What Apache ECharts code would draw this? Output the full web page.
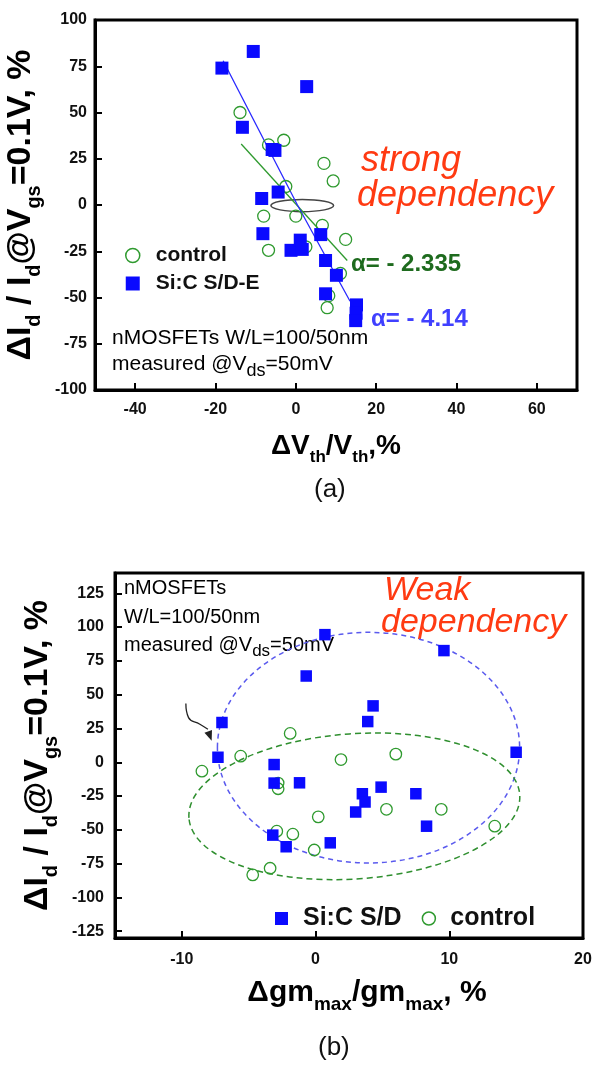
<!DOCTYPE html>
<html>
<head>
<meta charset="utf-8">
<script src="https://cdn.jsdelivr.net/npm/echarts@6/dist/echarts.min.js"></script>
<style>
  html, body { margin: 0; padding: 0; background: #fff; }
  #chart { width: 598px; height: 1077px; }
</style>
</head>
<body>
<div id="chart"></div>
<script>
// ---- panel (a): dId/Id vs dVth/Vth ----
const ctrlA = [
  [-13.9, 50], [-6.8, 32.5], [-3.0, 35], [-2.5, 10], [7.0, 22.5], [9.3, 13],
  [-8.0, -6], [0.0, -6], [-6.8, -24.5], [6.6, -11], [12.4, -18.6], [2.5, -22.6],
  [11.1, -37], [8.2, -49], [7.8, -55.5]
];
const sicA = [
  [-18.4, 74], [-10.6, 83], [2.7, 64], [-13.3, 42], [-5.9, 30], [-5.2, 29.5],
  [-4.4, 7], [-8.5, 3.5], [-8.2, -15.5], [-1.2, -24.5], [1.1, -19], [1.6, -24],
  [6.2, -16], [7.4, -30], [10.1, -38], [7.4, -48], [15.1, -54], [15.0, -58.5], [14.9, -62.5]
];
const fitSicA = [[-18.1, 78], [0.4, 0], [13.5, -52]];
const fitCtrlA = [[-13.6, 33], [12.8, -30]];
const ringA = [[1.6, -0.3, 7.8, 3.3, 0]];          // cx, cy, rx, ry, tilt(deg)
const xTicksA = [-40, -20, 0, 20, 40, 60];

// ---- panel (b): dId/Id vs dgm/gm ----
const sicB = [
  [-7.0, 29.4], [-7.3, 3.7], [-0.7, 63.8], [-3.1, -1.7], [-3.1, -15.4], [-1.2, -15.2],
  [-3.2, -53.9], [-2.2, -62.5], [0.7, 94.4], [9.6, 82.6], [4.3, 41.7], [3.9, 30.1],
  [15.0, 7.4], [3.5, -23.3], [3.7, -29.4], [4.9, -18.4], [3.0, -36.8], [7.5, -23.3],
  [8.3, -47.3], [1.1, -59.6]
];
const ctrlB = [
  [-1.9, 21.3], [-5.6, 4.5], [-8.5, -6.6], [-2.8, -15.4], [-2.8, -19.6], [-2.9, -51],
  [-1.7, -53.2], [-3.4, -78.4], [-4.7, -83.3], [6.0, 6], [1.9, 2], [0.2, -40.4],
  [5.3, -34.8], [9.4, -34.8], [13.4, -47.3], [-0.1, -64.9]
];
const ringSicB = [[3.96, 10.8, 11.3, 85.3, 0]];
const ringCtrlB = [[2.9, -32.6, 12.4, 53.7, 4]];
const arrowB = [[-9.7, 43.4], [-9.5, 33], [-8.65, 28.1], [-8.05, 24.4]];
const arrowHeadB = [[-7.9, 19.3]];
const xTicksB = [-10, 0, 10, 20];
const yTicksB = [-125, -100, -75, -50, -25, 0, 25, 50, 75, 100, 125];

const FONT = 'Liberation Sans, Arial, sans-serif';
const BLUE = '#0a0aff';
const GREEN = '#2f9a2f';

const chart = echarts.init(document.getElementById('chart'));

function ellipseSeries(data, xi, color, width, dash) {
  return {
    type: 'custom', xAxisIndex: xi, yAxisIndex: xi, silent: true, z: 1,
    data: data,
    renderItem: (params, api) => {
      const c = api.coord([api.value(0), api.value(1)]);
      const s = api.size([api.value(2), api.value(3)]);
      return {
        type: 'ellipse',
        shape: { cx: c[0], cy: c[1], rx: s[0], ry: s[1] },
        originX: c[0], originY: c[1],
        rotation: api.value(4) * Math.PI / 180,
        style: { fill: 'none', stroke: color, lineWidth: width, lineDash: dash }
      };
    }
  };
}

const yName = '{m|ΔI}{s|d}{m| / I}{s|d}{m|@V}{s|gs}{m|=0.1V, %}';
function nameRich(size, sub) {
  return {
    m: { fontSize: size, fontWeight: 'bold', fontFamily: FONT, color: '#000', lineHeight: size + 12, verticalAlign: 'middle' },
    s: { fontSize: sub, fontWeight: 'bold', fontFamily: FONT, color: '#000', lineHeight: sub + 2, verticalAlign: 'bottom' }
  };
}
const labelStyle = { fontSize: 16, fontWeight: 'bold', fontFamily: FONT, color: '#111' };
const axisLine = { onZero: false, lineStyle: { color: '#000', width: 3 } };
const tickStyle = { inside: true, length: 7, lineStyle: { color: '#000', width: 2 } };

const noteRich = (size) => ({
  a: { fontSize: size, fontFamily: FONT, color: '#222', lineHeight: size + 10, verticalAlign: 'middle' },
  s: { fontSize: size - 3, fontFamily: FONT, color: '#222', lineHeight: size - 3, verticalAlign: 'bottom' }
});

const option = {
  animation: false,
  backgroundColor: '#fff',
  grid: [
    { left: 95, right: 21, top: 20, height: 370, outerBoundsMode: 'none', show: true, borderColor: '#000', borderWidth: 3, backgroundColor: 'transparent' },
    { left: 115, right: 15, top: 573, height: 365, outerBoundsMode: 'none', show: true, borderColor: '#000', borderWidth: 3, backgroundColor: 'transparent' }
  ],
  xAxis: [
    {
      type: 'value', gridIndex: 0, min: -50, max: 70,
      axisLine: axisLine, splitLine: { show: false },
      axisTick: Object.assign({ customValues: xTicksA }, tickStyle),
      axisLabel: Object.assign({ customValues: xTicksA, margin: 12 }, labelStyle),
      name: '{m|ΔV}{s|th}{m|/V}{s|th}{m|,%}', nameLocation: 'middle', nameGap: 36,
      nameTextStyle: { rich: nameRich(28, 17) }
    },
    {
      type: 'value', gridIndex: 1, min: -15, max: 20,
      axisLine: axisLine, splitLine: { show: false },
      axisTick: Object.assign({ customValues: xTicksB }, tickStyle),
      axisLabel: Object.assign({ customValues: xTicksB, margin: 14 }, labelStyle),
      name: '{m|Δgm}{s|max}{m|/gm}{s|max}{m|, %}', nameLocation: 'middle', nameGap: 34,
      nameTextStyle: { rich: nameRich(30, 19), padding: [0, 0, 0, 36] }
    }
  ],
  yAxis: [
    {
      type: 'value', gridIndex: 0, min: -100, max: 100, interval: 25,
      axisLine: axisLine, splitLine: { show: false },
      axisTick: tickStyle,
      axisLabel: Object.assign({ margin: 8 }, labelStyle),
      name: yName, nameLocation: 'middle', nameGap: 39,
      nameTextStyle: { rich: nameRich(34, 20) }
    },
    {
      type: 'value', gridIndex: 1, min: -130, max: 140,
      axisLine: axisLine, splitLine: { show: false },
      axisTick: Object.assign({ customValues: yTicksB }, tickStyle),
      axisLabel: Object.assign({ customValues: yTicksB, margin: 11 }, labelStyle),
      name: yName, nameLocation: 'middle', nameGap: 48,
      nameTextStyle: { rich: nameRich(34, 20) }
    }
  ],
  legend: [
    {
      data: [
        { name: 'control', icon: 'circle', itemStyle: { color: 'transparent', borderColor: GREEN, borderWidth: 1.5 } },
        { name: 'Si:C S/D-E', icon: 'rect', itemStyle: { color: BLUE } }
      ],
      orient: 'vertical', left: 120, top: 240, itemGap: 7,
      itemWidth: 14, itemHeight: 14, selectedMode: false,
      textStyle: { fontSize: 21, fontWeight: 'bold', fontFamily: FONT, color: '#111', padding: [0, 0, 0, 11] }
    },
    {
      data: [
        { name: 'Si:C S/D', icon: 'rect', itemStyle: { color: BLUE } },
        { name: 'control', icon: 'circle', itemStyle: { color: 'transparent', borderColor: GREEN, borderWidth: 1.5 } }
      ],
      orient: 'horizontal', left: 270, top: 901, itemGap: 20,
      itemWidth: 13, itemHeight: 13, selectedMode: false,
      textStyle: { fontSize: 25, fontWeight: 'bold', fontFamily: FONT, color: '#111', padding: [0, 0, 0, 10] }
    }
  ],
  series: [
    ellipseSeries(ringA, 0, '#444', 1.5, null),
    {
      name: 'fit control', type: 'line', xAxisIndex: 0, yAxisIndex: 0, data: fitCtrlA,
      symbol: 'none', lineStyle: { color: '#2f9a2f', width: 1.3 }, z: 2, silent: true
    },
    {
      name: 'fit Si:C', type: 'line', xAxisIndex: 0, yAxisIndex: 0, data: fitSicA,
      symbol: 'none', lineStyle: { color: '#2a2aff', width: 1.3 }, z: 2, silent: true
    },
    {
      name: 'control', type: 'scatter', xAxisIndex: 0, yAxisIndex: 0, data: ctrlA,
      symbol: 'circle', symbolSize: 12,
      itemStyle: { color: 'transparent', borderColor: GREEN, borderWidth: 1.3, opacity: 1 }, z: 3
    },
    {
      name: 'Si:C S/D-E', type: 'scatter', xAxisIndex: 0, yAxisIndex: 0, data: sicA,
      symbol: 'rect', symbolSize: 13, itemStyle: { color: BLUE, opacity: 1 }, z: 4
    },
    ellipseSeries(ringSicB, 1, '#5a5aee', 1.5, [5, 4]),
    ellipseSeries(ringCtrlB, 1, '#2f8f2f', 1.5, [6, 4]),
    {
      name: 'arrow', type: 'line', xAxisIndex: 1, yAxisIndex: 1, data: arrowB, smooth: true,
      symbol: 'none', lineStyle: { color: '#222', width: 1.3 }, silent: true
    },
    {
      name: 'arrow head', type: 'scatter', xAxisIndex: 1, yAxisIndex: 1, data: arrowHeadB,
      symbol: 'triangle', symbolRotate: 200, symbolSize: [8, 10], itemStyle: { color: '#222', opacity: 1 }, silent: true
    },
    {
      name: 'Si:C S/D', type: 'scatter', xAxisIndex: 1, yAxisIndex: 1, data: sicB,
      symbol: 'rect', symbolSize: 11.5, itemStyle: { color: BLUE, opacity: 1 }, z: 4
    },
    {
      name: 'control', type: 'scatter', xAxisIndex: 1, yAxisIndex: 1, data: ctrlB,
      symbol: 'circle', symbolSize: 11.5,
      itemStyle: { color: 'transparent', borderColor: GREEN, borderWidth: 1.3, opacity: 1 }, z: 3
    }
  ],
  graphic: [
    { type: 'text', left: 112, top: 328, style: { text: '{a|nMOSFETs W/L=100/50nm}', rich: noteRich(21) } },
    { type: 'text', left: 112, top: 354, style: { text: '{a|measured @V}{s|ds}{a|=50mV}', rich: noteRich(21) } },
    { type: 'text', left: 361, top: 143, style: { text: 'strong', fontSize: 36, fontStyle: 'italic', fontFamily: FONT, fill: '#ff3a12' } },
    { type: 'text', left: 357, top: 178, style: { text: 'dependency', fontSize: 36, fontStyle: 'italic', fontFamily: FONT, fill: '#ff3a12' } },
    { type: 'text', left: 351, top: 252, style: { text: 'α= - 2.335', fontSize: 24, fontWeight: 'bold', fontFamily: FONT, fill: '#1e6b1e' } },
    { type: 'text', left: 371, top: 307, style: { text: 'α= - 4.14', fontSize: 24, fontWeight: 'bold', fontFamily: FONT, fill: '#4040ff' } },
    { type: 'text', left: 314, top: 477, style: { text: '(a)', fontSize: 26, fontFamily: FONT, fill: '#111' } },

    { type: 'text', left: 124, top: 578, style: { text: '{a|nMOSFETs}', rich: noteRich(20) } },
    { type: 'text', left: 124, top: 607, style: { text: '{a|W/L=100/50nm}', rich: noteRich(20) } },
    { type: 'text', left: 124, top: 635, style: { text: '{a|measured @V}{s|ds}{a|=50mV}', rich: noteRich(20) } },
    { type: 'text', left: 384, top: 574, style: { text: 'Weak', fontSize: 34, fontStyle: 'italic', fontFamily: FONT, fill: '#ff3a12' } },
    { type: 'text', left: 381, top: 606, style: { text: 'dependency', fontSize: 34, fontStyle: 'italic', fontFamily: FONT, fill: '#ff3a12' } },
    { type: 'text', left: 318, top: 1035, style: { text: '(b)', fontSize: 26, fontFamily: FONT, fill: '#111' } }
  ]
};

chart.setOption(option);
</script>
</body>
</html>
